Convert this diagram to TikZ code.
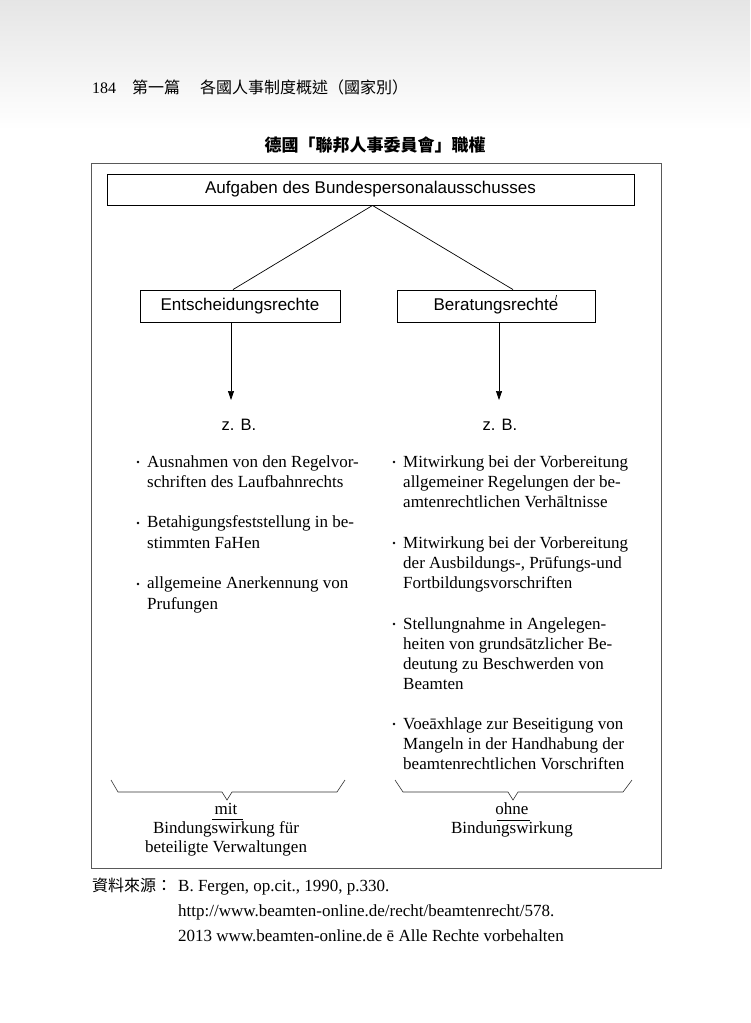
\documentclass[tikz,border=0pt]{standalone}
\usepackage{fontspec}
\setmainfont{Liberation Serif}
\setsansfont{Liberation Sans}
\newfontfamily\cjk{Noto Sans CJK TC}
\usetikzlibrary{positioning,arrows.meta}

\tikzset{
  kasten/.style={draw, line width=0.9pt, inner sep=0pt, minimum height=31pt,
    font=\sffamily\fontsize{17}{20}\selectfont},
  punkt/.style={anchor=base west, align=left, inner sep=0pt,
    font=\fontsize{17}{20.25}\selectfont},
  tupfen/.style={circle, fill, inner sep=0pt, minimum size=2.8pt},
  zb/.style={anchor=base, inner sep=0pt, font=\sffamily\fontsize{16.5}{18}\selectfont},
  unten/.style={anchor=base, align=center, inner sep=0pt,
    font=\fontsize{17}{19}\selectfont},
}

\begin{document}
\begin{tikzpicture}[x=1pt, y=-1pt, >={Triangle[length=9pt, width=6pt]}]
  \useasboundingbox (0,0) rectangle (750,1023);
  % Kopfzeile (Basislinie der letzten Zeile)
  \shade[top color=gray!20, bottom color=white] (0,0) rectangle (750,130);
  \node[anchor=base west, inner sep=0pt, font=\fontsize{16}{18}\selectfont] (seite) at (92,93) {184};
  \node[anchor=base west, inner sep=0pt, font=\cjk\fontsize{16}{18}\selectfont] (teil) at (132,93) {第一篇};
  \node[anchor=base west, inner sep=0pt, font=\cjk\fontsize{16}{18}\selectfont] (kapitel) at (200,93) {各國人事制度概述（國家別）};
  \node[inner sep=0pt, font=\cjk\bfseries\fontsize{17}{20}\selectfont] (titel) at (375,145) {德國「聯邦人事委員會」職權};

  % Rahmen
  \draw[gray!70!black, line width=0.8pt] (91,163) rectangle (661,868);

  % Kaesten
  \node[kasten, minimum width=527pt] (aufgaben) at (370.5,189.5) {Aufgaben des Bundespersonalausschusses};
  \node[kasten, minimum width=200pt, minimum height=32pt] (entsch) at (240,306) {Entscheidungsrechte};
  \node[kasten, minimum width=198pt, minimum height=32pt] (berat) at (496,306) {Beratungsrechte};
  \draw[line width=0.7pt] (556.5,295) -- (555.5,300);

  \draw[line width=0.7pt] ([xshift=2pt]aufgaben.south) -- ([xshift=-7pt]entsch.north);
  \draw[line width=0.7pt] ([xshift=2pt]aufgaben.south) -- ([xshift=17pt]berat.north);

  % Pfeile
  \coordinate (pfeilL) at (231,400);
  \coordinate (pfeilR) at (499,400);
  \draw[->, line width=0.7pt] (entsch.south -| pfeilL) -- (pfeilL);
  \draw[->, line width=0.7pt] (berat.south -| pfeilR) -- (pfeilR);
  \node[zb] (zbL) at (239,430) {z. B.};
  \node[zb] (zbR) at (500,430) {z. B.};

  % linke Spalte
  \node[tupfen] (tl1) at (138,462) {};
  \node[punkt] (l1) at (147,487.5) {Ausnahmen von den Regelvor-\\schriften des Laufbahnrechts};
  \node[tupfen] (tl2) at (138,523) {};
  \node[punkt] (l2) at (147,548) {Betahigungsfeststellung in be-\\stimmten FaHen};
  \node[tupfen] (tl3) at (138,584) {};
  \node[punkt] (l3) at (147,609) {allgemeine Anerkennung von\\Prufungen};

  % rechte Spalte
  \node[tupfen] (tr1) at (394,462) {};
  \node[punkt] (r1) at (403,507.5) {Mitwirkung bei der Vorbereitung\\allgemeiner Regelungen der be-\\amtenrechtlichen Verhāltnisse};
  \node[tupfen] (tr2) at (394,543) {};
  \node[punkt] (r2) at (403,588.5) {Mitwirkung bei der Vorbereitung\\der Ausbildungs-, Prūfungs-und\\Fortbildungsvorschriften};
  \node[tupfen] (tr3) at (394,624) {};
  \node[punkt] (r3) at (403,689.75) {Stellungnahme in Angelegen-\\heiten von grundsātzlicher Be-\\deutung zu Beschwerden von\\Beamten};
  \node[tupfen] (tr4) at (394,724) {};
  \node[punkt] (r4) at (403,769.5) {Voeāxhlage zur Beseitigung von\\Mangeln in der Handhabung der\\beamtenrechtlichen Vorschriften};

  % Klammern
  \draw[gray!40!black, line width=0.6pt] (111,780) -- (118,792) -- (222,792) -- (227,800) -- (232,792) -- (337,792) -- (345,780);
  \draw[gray!40!black, line width=0.6pt] (395,780) -- (403,792) -- (508,792) -- (513,800) -- (518,792) -- (623,792) -- (632,780);
  \node[unten] (mit) at (226,852) {mit\\Bindungswirkung für\\beteiligte Verwaltungen};
  \node[unten] (ohne) at (512,833) {ohne\\Bindungswirkung};
  \draw[line width=0.5pt] (212,819) -- (243,819);
  \draw[line width=0.5pt] (497,820) -- (530,820);

  % Quelle
  \node[anchor=base west, inner sep=0pt, font=\cjk\fontsize{16}{18}\selectfont] (quelle) at (92,891) {資料來源：};
  \node[punkt, font=\fontsize{17}{25}\selectfont] (q1) at (178,941) {B. Fergen, op.cit., 1990, p.330.\\http://www.beamten-online.de/recht/beamtenrecht/578.\\2013 www.beamten-online.de ē Alle Rechte vorbehalten};
\end{tikzpicture}
\end{document}
